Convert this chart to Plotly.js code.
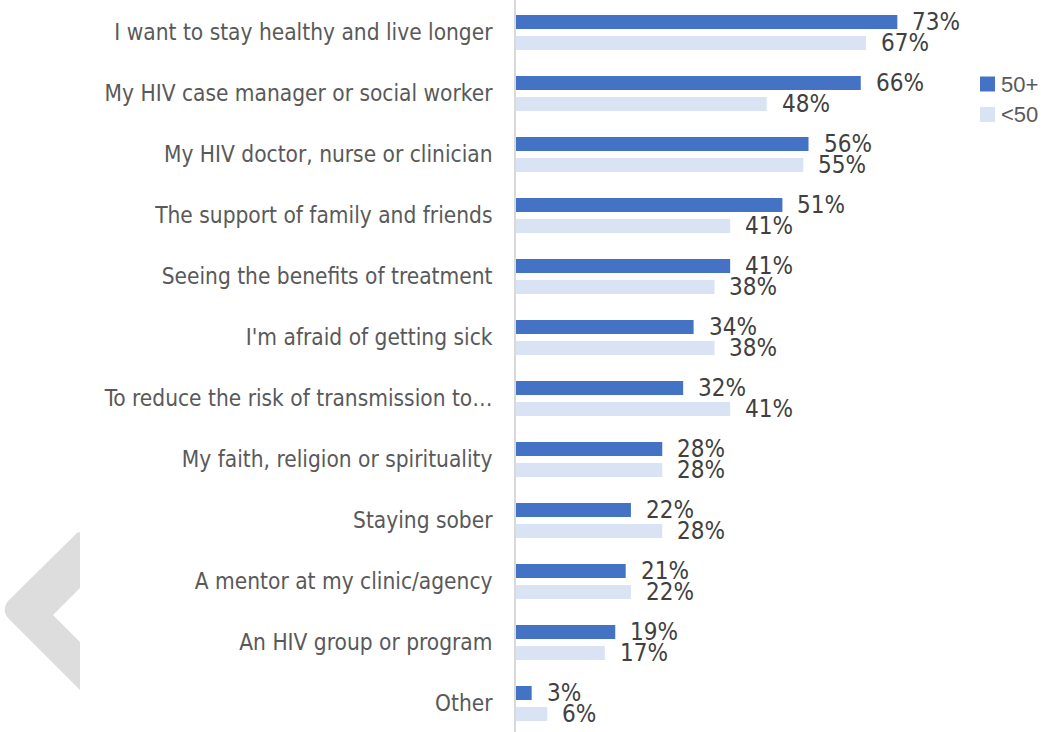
<!DOCTYPE html>
<html>
<head>
<meta charset="utf-8">
<script src="https://cdn.plot.ly/plotly-3.0.1.min.js"></script>
<style>
  html, body { margin: 0; padding: 0; background: #ffffff; overflow: hidden; }
  #chart { width: 1041px; height: 732px; }
</style>
</head>
<body>
<div id="chart"></div>
<script>
// ---- data ----
const categories = [
  "I want to stay healthy and live longer",
  "My HIV case manager or social worker",
  "My HIV doctor, nurse or clinician",
  "The support of family and friends",
  "Seeing the benefits of treatment",
  "I'm afraid of getting sick",
  "To reduce the risk of transmission to…",
  "My faith, religion or spirituality",
  "Staying sober",
  "A mentor at my clinic/agency",
  "An HIV group or program",
  "Other"
];
const seriesNames = ["50+", "<50"];
const values50plus = [73, 66, 56, 51, 41, 34, 32, 28, 22, 21, 19, 3];
const valuesUnder50 = [67, 48, 55, 41, 38, 38, 41, 28, 28, 22, 17, 6];

// ---- styling / layout constants ----
const W = 1041, H = 732;
const M = { l: 516, r: 81, t: 0, b: 0, autoexpand: false };
const plotW = W - M.l - M.r, plotH = H - M.t - M.b;
const narrow = "'Liberation Sans Narrow', 'Arial Narrow', 'DejaVu Sans Condensed', sans-serif";
const regular = "'Liberation Sans', Arial, sans-serif";
const colors = ["#4472C4", "#DAE3F3"];

function px2paper(px, py) {
  return [(px - M.l) / plotW, 1 - (py - M.t) / plotH];
}
function pathFromPixels(cmds) {
  return cmds.map(c => {
    if (c.length === 1) return c[0];
    const pts = [];
    for (let k = 1; k < c.length; k += 2) {
      const p = px2paper(c[k], c[k + 1]);
      pts.push(p[0].toFixed(5) + "," + p[1].toFixed(5));
    }
    return c[0] + " " + pts.join(" ");
  }).join(" ");
}

const seriesValues = [values50plus, valuesUnder50];

const traces = seriesValues.map((vals, s) => ({
  type: "bar",
  orientation: "h",
  name: seriesNames[s],
  y: categories,
  x: vals,
  marker: { color: colors[s], line: { width: 0 } },
  hoverinfo: "skip",
  showlegend: false
}));

const annotations = [];
seriesValues.forEach((vals, s) => {
  vals.forEach((v, i) => {
    annotations.push({
      x: v, y: categories[i], xref: "x", yref: "y",
      text: v + "%",
      showarrow: false,
      xanchor: "left", yanchor: "middle",
      xshift: 13, yshift: s === 0 ? 10.5 : -10.5,
      font: { family: narrow, size: 24, color: "#404040" }
    });
  });
});

const shapes = [];
const chevron = pathFromPixels([
  ["M", 80, 532], ["L", 80, 588], ["L", 53, 615], ["L", 80, 642], ["L", 80, 690],
  ["L", 9, 619], ["Q", 1, 611, 8, 601], ["L", 74, 536], ["Q", 77, 532, 80, 532], ["Z"]
]);
shapes.push({
  type: "path", xref: "paper", yref: "paper",
  path: chevron,
  fillcolor: "#DDDDDD", line: { width: 0 }, layer: "below"
});

// legend (drawn as key squares + names)
const legendX = 980, legendY0 = 84, legendStep = 30.5, keySize = 15;
seriesNames.forEach((name, s) => {
  const cy = legendY0 + s * legendStep;
  const p0 = px2paper(legendX, cy - keySize / 2);
  const p1 = px2paper(legendX + keySize, cy + keySize / 2);
  shapes.push({
    type: "rect", xref: "paper", yref: "paper",
    x0: p0[0], x1: p1[0], y0: p1[1], y1: p0[1],
    fillcolor: colors[s], line: { width: 0 }
  });
  const t = px2paper(legendX + keySize + 4, cy);
  annotations.push({
    x: t[0], y: t[1], xref: "paper", yref: "paper",
    text: name, showarrow: false,
    xanchor: "left", yanchor: "middle",
    font: { family: regular, size: 22, color: "#595959" }
  });
});

const layout = {
  width: W, height: H,
  margin: M,
  paper_bgcolor: "#ffffff", plot_bgcolor: "#ffffff",
  barmode: "group",
  bargap: 0.311,
  bargroupgap: 0.333,
  showlegend: false,
  xaxis: {
    range: [0, 85],
    showgrid: false, zeroline: false, showline: false,
    showticklabels: false, ticks: "", fixedrange: true
  },
  yaxis: {
    type: "category",
    range: [11.467, -0.533],
    showgrid: false, zeroline: false,
    showline: true, linecolor: "#D9D9D9", linewidth: 2,
    ticks: "", ticklabelstandoff: 17,
    tickfont: { family: narrow, size: 22.5, color: "#595959" },
    automargin: false, fixedrange: true
  },
  shapes: shapes,
  annotations: annotations,
  font: { family: narrow, color: "#595959" }
};

Plotly.newPlot("chart", traces, layout, { displayModeBar: false, staticPlot: true });
</script>
</body>
</html>
